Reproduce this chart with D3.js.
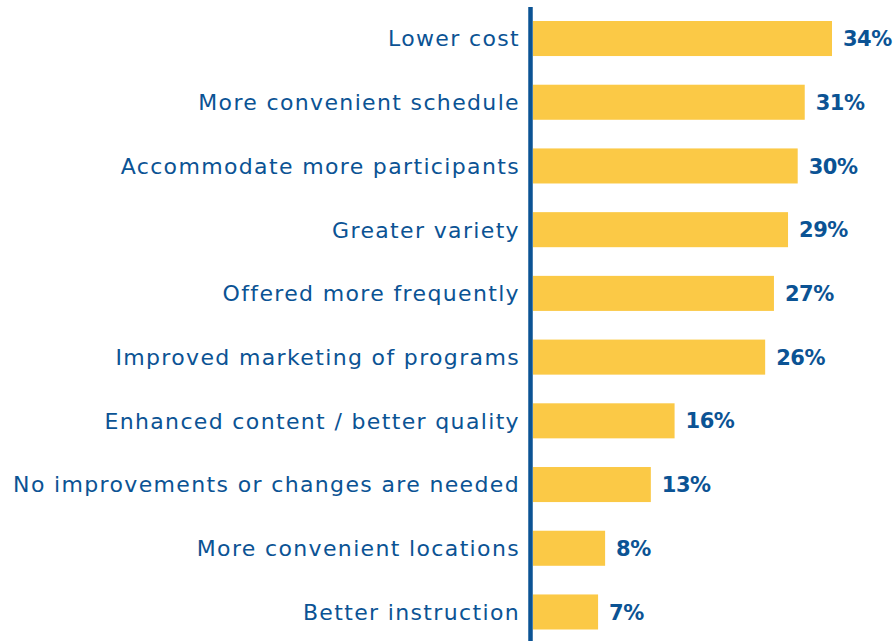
<!DOCTYPE html>
<html>
<head>
<meta charset="utf-8">
<script src="https://cdn.jsdelivr.net/npm/d3@7"></script>
<style>
  body { margin: 0; background: #fff; }
  svg { display: block; }
</style>
</head>
<body>
<script>
// categories, top to bottom
var categories = [
    "Lower cost",
    "More convenient schedule",
    "Accommodate more participants",
    "Greater variety",
    "Offered more frequently",
    "Improved marketing of programs",
    "Enhanced content / better quality",
    "No improvements or changes are needed",
    "More convenient locations",
    "Better instruction"
];
// share of respondents (%)
var values = [34.0, 30.9, 30.1, 29.0, 27.4, 26.4, 16.1, 13.4, 8.2, 7.4];

var width = 894, height = 641;
var blue = "#0b5394", gold = "#fbc946";

var svg = d3.select("body")
    .append("svg")
    .attr("width", width)
    .attr("height", height);

var x = d3.scaleLinear()
    .domain([0, 34])
    .range([533, 832]);

var y = d3.scaleBand()
    .domain(categories)
    .range([21, 629.5])
    .paddingInner(0.45)
    .paddingOuter(0);

// bars
svg.selectAll("rect.bar")
    .data(values)
    .enter()
    .append("rect")
    .attr("class", "bar")
    .attr("x", x(0))
    .attr("y", (d, i) => y(categories[i]))
    .attr("width", d => x(d) - x(0))
    .attr("height", y.bandwidth())
    .attr("fill", gold);

// category labels
svg.selectAll("text.cat")
    .data(categories)
    .enter()
    .append("text")
    .attr("class", "cat")
    .attr("x", 520)
    .attr("y", d => y(d) + y.bandwidth() / 2)
    .attr("dy", "0.36em")
    .attr("text-anchor", "end")
    .attr("font-family", "'DejaVu Sans', sans-serif")
    .attr("font-size", 22)
    .attr("letter-spacing", "1.35px")
    .attr("fill", blue)
    .text(d => d);

// value labels
var fmt = d3.format(".0f");
svg.selectAll("text.val")
    .data(values)
    .enter()
    .append("text")
    .attr("class", "val")
    .attr("x", d => x(d) + 11)
    .attr("y", (d, i) => y(categories[i]) + y.bandwidth() / 2)
    .attr("dy", "0.36em")
    .attr("font-family", "'DejaVu Sans', sans-serif")
    .attr("font-weight", "bold")
    .attr("font-size", 21)
    .attr("letter-spacing", "-0.5px")
    .attr("fill", blue)
    .text(d => fmt(d) + "%");

// axis line
svg.append("line")
    .attr("x1", 530.5).attr("x2", 530.5)
    .attr("y1", 7).attr("y2", height)
    .attr("stroke", blue)
    .attr("stroke-width", 4.5);
</script>
</body>
</html>
